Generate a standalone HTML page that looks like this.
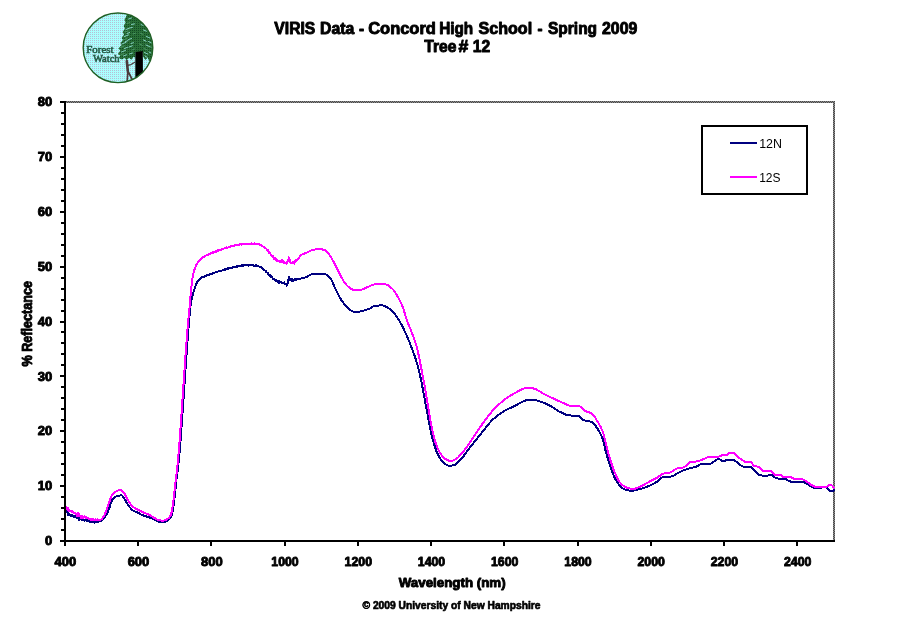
<!DOCTYPE html>
<html><head><meta charset="utf-8"><title>VIRIS Data</title>
<style>
html,body{margin:0;padding:0;background:#fff;}
body{width:907px;height:621px;overflow:hidden;font-family:"Liberation Sans",sans-serif;}
svg{display:block}
svg text{font-family:"Liberation Sans",sans-serif;fill:#000;}
.b{font-weight:bold;stroke:#000;stroke-width:0.9px;stroke-linejoin:round}
</style></head><body>
<svg width="907" height="621" viewBox="0 0 907 621">
<defs>
<pattern id="chk" width="2" height="2" patternUnits="userSpaceOnUse"><rect width="2" height="2" fill="#8c8c8c"/><rect x="0" y="1" width="1" height="1" fill="#484848"/><rect x="1" y="0" width="1" height="1" fill="#484848"/></pattern>
<clipPath id="pc"><rect x="65" y="102" width="770" height="439"/></clipPath>
</defs>
<rect width="907" height="621" fill="#fff"/>
<g id="logo">
<defs>
<clipPath id="lc"><circle cx="118" cy="47.8" r="34.6"/></clipPath>
<pattern id="dz" width="2" height="2" patternUnits="userSpaceOnUse"><rect width="2" height="2" fill="#aaffff"/><rect width="1" height="1" fill="#b4c0d4"/></pattern>
<pattern id="dg" width="2" height="2" patternUnits="userSpaceOnUse"><rect width="2" height="2" fill="#2a7038"/><rect width="1" height="1" fill="#124a24"/></pattern>
</defs>
<circle cx="118" cy="47.8" r="34.8" fill="url(#dz)"/>
<g clip-path="url(#lc)">
<!-- foliage -->
<path d="M127.6,12 L126.4,16 L124.4,20 L125.6,22.5 L123.6,26 L125,28.5 L122.6,32 L124,34.5 L121.6,38 L123,40 L120.4,43 L121.6,45 L118.4,48.5 L120.4,50.5 L117.8,54 L120.2,55.5 L118.8,58 L122,59.6 L124.5,57.8 L126.5,60.2 L129,57.7 L131.5,59.7 L133.5,56.7 L135.3,57.7 L135.3,52 L142.8,52 L143,56.5 L145.5,60 L147.5,57.5 L149.5,61.5 L151.5,58.5 L153,61 L158,52 L158,10 Z" fill="url(#dg)"/>
<!-- texture -->
<g stroke="#86d2c4" stroke-width="1" fill="none" stroke-linecap="round">
<path d="M128.5,19 l3,-1 M131.5,24.5 l3,-0.6 M126,29.5 l3.4,-1.4 M124.5,36.5 l4,-1.6 M122,44 l4.2,-1.8 M121.5,52 l4,-1.6 M129,47 l3.4,-1.2 M128.5,39.5 l3,-1 M123.5,56 l3,-1.2 M127,33.5 l2.6,-1 M125.5,41.5 l2.6,-1 M124.5,48.5 l3,-1.2 M129.5,54 l3,-1 M131,43.5 l2.4,-0.8 M130,28 l2.4,-0.6"/>
<path d="M143.5,30 l3,1.2 M146.5,36.5 l3.6,1.6 M146,45 l4,1.8 M144.5,52.5 l3.4,1.6 M149,52 l2,1 M141,24.5 l2.4,1 M148.5,41.5 l3,1.4 M143.5,40 l2.6,1.2 M145,56 l2,1.2"/>
</g>
<g stroke="#4f9a6a" stroke-width="0.9" fill="none" stroke-linecap="round">
<path d="M127,23.5 l3,-1 M124.8,32 l3.4,-1.2 M123,40 l3.6,-1.4 M120.5,47.5 l4,-1.6 M120.5,55 l3.6,-1.4 M133,34 l2.4,-0.8 M132,50 l2.6,-1 M140,33 l3,1.4 M144,48.5 l3.4,1.6 M150,46.5 l2.4,1.2 M139.5,44 l3,1.4"/>
</g>
<!-- trunk -->
<path d="M135.3,52 L142.8,51 L143,84 L135.3,84 Z" fill="#000"/>
<!-- person -->
<g stroke="#4a3a3c" fill="none" stroke-linecap="round" stroke-linejoin="round">
<path d="M126.8,61 L127.8,71" stroke-width="2.6"/>
<path d="M127.9,71 L127.2,81 M127.9,71 L132.4,80" stroke-width="1.7"/>
<path d="M127.8,65.4 L131,64.6 L134.8,62.2" stroke-width="1.2"/>
</g>
</g>
<circle cx="118" cy="47.8" r="34.8" fill="none" stroke="#1f5f24" stroke-width="1.4"/>
<g font-size="9.4" stroke="#245c46" stroke-width="0.5">
<text x="86.3" y="53.1" textLength="27.2" lengthAdjust="spacingAndGlyphs" style="font-family:'Liberation Serif',serif;fill:#245c46">Forest</text>
<text x="93" y="61.5" textLength="26.6" lengthAdjust="spacingAndGlyphs" style="font-family:'Liberation Serif',serif;fill:#245c46">Watch</text>
</g>
</g>

<g class="b" font-size="16">
<text x="274.3" y="33.9" textLength="41.0" lengthAdjust="spacingAndGlyphs">VIRIS</text>
<text x="320.1" y="33.9" textLength="34.2" lengthAdjust="spacingAndGlyphs">Data</text>
<text x="358.9" y="33.9" textLength="5.1" lengthAdjust="spacingAndGlyphs">-</text>
<text x="368.2" y="33.9" textLength="67.7" lengthAdjust="spacingAndGlyphs">Concord</text>
<text x="439.2" y="33.9" textLength="34.0" lengthAdjust="spacingAndGlyphs">High</text>
<text x="478.5" y="33.9" textLength="53.6" lengthAdjust="spacingAndGlyphs">School</text>
<text x="537.4" y="33.9" textLength="5.0" lengthAdjust="spacingAndGlyphs">-</text>
<text x="548.0" y="33.9" textLength="49.1" lengthAdjust="spacingAndGlyphs">Spring</text>
<text x="602.0" y="33.9" textLength="35.3" lengthAdjust="spacingAndGlyphs">2009</text>
<text x="424.2" y="51.6" textLength="32.2" lengthAdjust="spacingAndGlyphs">Tree</text>
<text x="458.4" y="51.6" textLength="9.8" lengthAdjust="spacingAndGlyphs">#</text>
<text x="472.8" y="51.6" textLength="17.4" lengthAdjust="spacingAndGlyphs">12</text>
</g>
<!-- plot border -->
<rect x="66" y="101" width="769" height="2" fill="url(#chk)"/>
<rect x="833" y="101" width="2" height="439" fill="url(#chk)"/>
<!-- series -->
<g fill="none" stroke-linejoin="round" stroke-linecap="butt" shape-rendering="crispEdges" clip-path="url(#pc)">
<path d="M64.3,507.9 L64.8,508.8 L65.3,509.6 L65.8,510.4 L66.3,511.4 L66.8,511.3 L67.3,512.1 L67.8,510.6 L68.3,515.3 L68.8,515.1 L69.3,514.0 L69.8,515.5 L70.3,515.3 L70.8,514.7 L71.3,516.5 L71.8,515.4 L72.3,515.6 L72.8,515.3 L73.3,516.7 L73.8,516.3 L74.3,517.1 L74.8,516.1 L75.3,516.9 L75.8,516.1 L76.3,517.9 L76.8,517.4 L77.3,517.8 L77.8,518.1 L78.3,516.9 L78.8,518.9 L79.3,520.4 L79.8,517.0 L80.3,517.8 L80.8,518.1 L81.3,519.7 L81.8,519.5 L82.3,520.2 L82.8,520.1 L83.3,519.9 L83.8,520.1 L84.3,519.9 L84.8,520.6 L85.3,519.5 L85.8,520.0 L86.3,520.5 L86.8,521.5 L87.3,520.1 L87.8,520.0 L88.3,520.3 L88.8,521.3 L89.3,520.7 L89.8,521.7 L90.3,519.9 L90.8,521.7 L91.3,521.7 L91.8,520.3 L92.3,521.4 L92.8,522.1 L93.3,521.4 L93.8,522.1 L94.3,522.9 L94.8,521.7 L95.3,521.4 L95.8,521.2 L96.3,522.1 L96.8,521.6 L97.3,521.6 L97.8,521.6 L98.3,522.1 L98.8,520.9 L99.3,520.5 L99.8,519.8 L100.3,521.1 L100.8,520.8 L101.3,520.6 L101.8,520.3 L102.3,520.0 L102.8,519.6 L103.3,519.0 L103.8,518.4 L104.3,517.7 L104.8,517.0 L105.3,516.2 L105.8,515.5 L106.3,514.7 L106.8,513.7 L107.3,512.7 L107.8,511.7 L108.3,510.6 L108.8,509.4 L109.3,508.2 L109.8,506.6 L110.3,505.0 L110.8,503.3 L111.3,501.8 L111.8,500.6 L112.3,499.8 L112.8,499.1 L113.3,498.5 L113.8,498.0 L114.3,497.5 L114.8,497.1 L115.3,496.7 L115.8,496.5 L116.3,496.3 L116.8,496.1 L117.3,496.0 L117.8,495.9 L118.3,495.8 L118.8,495.7 L119.3,495.6 L119.8,495.6 L120.3,495.5 L120.8,495.4 L121.3,495.4 L121.8,495.5 L122.3,495.8 L122.8,496.3 L123.3,497.0 L123.8,497.8 L124.3,498.6 L124.8,499.3 L125.3,500.1 L125.8,501.0 L126.3,501.9 L126.8,502.8 L127.3,503.7 L127.8,504.6 L128.3,505.3 L128.8,506.0 L129.3,506.7 L129.8,507.3 L130.3,507.9 L130.8,508.5 L131.3,509.1 L131.8,509.5 L132.3,510.0 L132.8,510.3 L133.3,510.6 L133.8,510.9 L134.3,511.1 L134.8,511.3 L135.3,511.6 L135.8,511.8 L136.3,512.0 L136.8,512.2 L137.3,512.5 L137.8,512.7 L138.3,513.0 L138.8,513.2 L139.3,513.5 L139.8,513.8 L140.3,514.1 L140.8,514.3 L141.3,514.6 L141.8,514.8 L142.3,515.1 L142.8,515.3 L143.3,515.5 L143.8,515.7 L144.3,515.9 L144.8,516.0 L145.3,516.2 L145.8,516.3 L146.3,516.5 L146.8,516.6 L147.3,516.8 L147.8,516.9 L148.3,517.1 L148.8,517.3 L149.3,517.4 L149.8,517.6 L150.3,517.8 L150.8,518.0 L151.3,518.2 L151.8,518.4 L152.3,518.6 L152.8,518.8 L153.3,519.0 L153.8,519.3 L154.3,519.5 L154.8,519.8 L155.3,520.1 L155.8,520.4 L156.3,520.7 L156.8,521.0 L157.3,521.3 L157.8,521.5 L158.3,521.6 L158.8,521.7 L159.3,521.7 L159.8,521.7 L160.3,521.7 L160.8,521.7 L161.3,521.7 L161.8,521.7 L162.3,521.7 L162.8,521.7 L163.3,521.7 L163.8,521.7 L164.3,521.7 L164.8,521.7 L165.3,521.7 L165.8,521.6 L166.3,521.4 L166.8,521.1 L167.3,520.8 L167.8,520.5 L168.3,520.1 L168.8,519.7 L169.3,519.3 L169.8,518.7 L170.3,518.0 L170.8,517.2 L171.3,516.2 L171.8,515.1 L172.3,513.4 L172.8,510.8 L173.3,507.5 L173.8,503.9 L174.3,500.1 L174.8,495.8 L175.3,490.8 L175.8,485.7 L176.3,481.0 L176.8,477.1 L177.3,473.7 L177.8,470.0 L178.3,465.5 L178.8,460.5 L179.3,455.1 L179.8,449.4 L180.3,443.3 L180.8,436.9 L181.3,430.3 L181.8,423.5 L182.3,416.4 L182.8,409.2 L183.3,401.9 L183.8,394.6 L184.3,387.1 L184.8,379.7 L185.3,372.3 L185.8,365.0 L186.3,357.8 L186.8,350.8 L187.3,343.9 L187.8,337.2 L188.3,330.8 L188.8,324.7 L189.3,318.9 L189.8,313.2 L190.3,308.2 L190.8,304.0 L191.3,300.5 L191.8,298.1 L192.3,296.1 L192.8,294.4 L193.3,292.8 L193.8,291.2 L194.3,289.6 L194.8,288.0 L195.3,286.5 L195.8,285.1 L196.3,284.0 L196.8,283.0 L197.3,282.1 L197.8,281.2 L198.3,280.5 L198.8,279.8 L199.3,279.3 L199.8,278.8 L200.3,278.7 L200.8,277.9 L201.3,277.7 L201.8,277.4 L202.3,276.9 L202.8,276.9 L203.3,276.8 L203.8,276.7 L204.3,276.7 L204.8,275.9 L205.3,276.1 L205.8,275.6 L206.3,276.1 L206.8,275.4 L207.3,275.3 L207.8,274.8 L208.3,274.7 L208.8,274.8 L209.3,274.5 L209.8,274.5 L210.3,273.8 L210.8,274.2 L211.3,273.7 L211.8,274.2 L212.3,273.5 L212.8,273.7 L213.3,272.9 L213.8,273.1 L214.3,272.6 L214.8,272.6 L215.3,272.5 L215.8,272.3 L216.3,272.2 L216.8,272.2 L217.3,272.0 L217.8,271.7 L218.3,271.2 L218.8,271.2 L219.3,271.1 L219.8,270.5 L220.3,271.1 L220.8,270.7 L221.3,270.5 L221.8,270.7 L222.3,270.4 L222.8,270.2 L223.3,269.7 L223.8,269.9 L224.3,269.7 L224.8,269.3 L225.3,269.6 L225.8,269.4 L226.3,268.6 L226.8,269.0 L227.3,268.5 L227.8,269.0 L228.3,268.7 L228.8,268.1 L229.3,268.0 L229.8,268.2 L230.3,267.9 L230.8,268.2 L231.3,267.9 L231.8,267.5 L232.3,267.6 L232.8,266.8 L233.3,267.3 L233.8,267.3 L234.3,266.9 L234.8,266.7 L235.3,266.9 L235.8,267.2 L236.3,266.6 L236.8,266.2 L237.3,266.7 L237.8,265.8 L238.3,266.3 L238.8,266.0 L239.3,266.2 L239.8,265.7 L240.3,266.2 L240.8,265.8 L241.3,265.3 L241.8,265.1 L242.3,265.5 L242.8,265.8 L243.3,265.5 L243.8,265.4 L244.3,265.3 L244.8,265.5 L245.3,265.4 L245.8,265.3 L246.3,265.0 L246.8,265.5 L247.3,265.5 L247.8,264.8 L248.3,265.7 L248.8,265.3 L249.3,264.9 L249.8,264.6 L250.3,265.2 L250.8,265.1 L251.3,264.9 L251.8,264.6 L252.3,265.3 L252.8,264.9 L253.3,265.0 L253.8,265.9 L254.3,265.8 L254.8,265.6 L255.3,265.3 L255.8,265.7 L256.3,265.1 L256.8,265.8 L257.3,265.7 L257.8,265.7 L258.3,265.8 L258.8,266.5 L259.3,266.6 L259.8,266.9 L260.3,267.3 L260.8,267.2 L261.3,267.4 L261.8,267.6 L262.3,268.4 L262.8,269.0 L263.3,269.2 L263.8,269.8 L264.3,269.7 L264.8,270.3 L265.3,270.6 L265.8,270.9 L266.3,272.2 L266.8,272.4 L267.3,272.5 L267.8,273.0 L268.3,274.6 L268.8,274.4 L269.3,275.9 L269.8,275.3 L270.3,275.3 L270.8,276.7 L271.3,276.7 L271.8,276.4 L272.3,277.1 L272.8,279.4 L273.3,278.9 L273.8,279.4 L274.3,279.4 L274.8,279.5 L275.3,280.9 L275.8,280.5 L276.3,280.3 L276.8,281.0 L277.3,280.6 L277.8,281.6 L278.3,282.4 L278.8,281.2 L279.3,283.0 L279.8,281.6 L280.3,282.4 L280.8,281.8 L281.3,282.4 L281.8,282.7 L282.3,282.6 L282.8,282.6 L283.3,282.7 L283.8,282.8 L284.3,282.4 L284.8,283.5 L285.3,284.0 L285.8,284.5 L286.3,284.4 L286.8,285.7 L287.3,284.2 L287.8,282.2 L288.3,280.9 L288.8,276.8 L289.3,278.6 L289.8,278.3 L290.3,280.1 L290.8,278.6 L291.3,280.6 L291.8,279.8 L292.3,279.2 L292.8,281.0 L293.3,280.4 L293.8,279.8 L294.3,279.2 L294.8,279.6 L295.3,279.4 L295.8,280.0 L296.3,279.4 L296.8,279.3 L297.3,279.2 L297.8,279.1 L298.3,279.1 L298.8,279.0 L299.3,278.9 L299.8,278.8 L300.3,278.7 L300.8,278.6 L301.3,278.5 L301.8,278.4 L302.3,278.3 L302.8,278.2 L303.3,278.0 L303.8,277.9 L304.3,277.8 L304.8,277.6 L305.3,277.5 L305.8,277.3 L306.3,277.1 L306.8,276.9 L307.3,276.6 L307.8,276.3 L308.3,276.0 L308.8,275.7 L309.3,275.4 L309.8,275.1 L310.3,274.8 L310.8,274.6 L311.3,274.4 L311.8,274.2 L312.3,274.1 L312.8,274.0 L313.3,273.9 L313.8,273.8 L314.3,273.8 L314.8,273.7 L315.3,273.7 L315.8,273.6 L316.3,273.6 L316.8,273.6 L317.3,273.5 L317.8,273.5 L318.3,273.5 L318.8,273.5 L319.3,273.5 L319.8,273.5 L320.3,273.5 L320.8,273.6 L321.3,273.6 L321.8,273.7 L322.3,273.7 L322.8,273.8 L323.3,273.9 L323.8,274.0 L324.3,274.1 L324.8,274.2 L325.3,274.3 L325.8,274.4 L326.3,274.6 L326.8,274.9 L327.3,275.3 L327.8,275.7 L328.3,276.1 L328.8,276.6 L329.3,277.2 L329.8,277.7 L330.3,278.3 L330.8,279.0 L331.3,279.8 L331.8,280.7 L332.3,281.8 L332.8,282.9 L333.3,284.0 L333.8,285.2 L334.3,286.3 L334.8,287.4 L335.3,288.4 L335.8,289.4 L336.3,290.5 L336.8,291.6 L337.3,292.6 L337.8,293.7 L338.3,294.7 L338.8,295.7 L339.3,296.7 L339.8,297.5 L340.3,298.4 L340.8,299.2 L341.3,300.0 L341.8,300.7 L342.3,301.5 L342.8,302.2 L343.3,302.9 L343.8,303.6 L344.3,304.2 L344.8,304.8 L345.3,305.4 L345.8,305.9 L346.3,306.5 L346.8,307.0 L347.3,307.5 L347.8,308.0 L348.3,308.5 L348.8,308.9 L349.3,309.4 L349.8,309.7 L350.3,310.1 L350.8,310.4 L351.3,310.6 L351.8,310.9 L352.3,311.1 L352.8,311.4 L353.3,311.6 L353.8,311.8 L354.3,311.9 L354.8,312.1 L355.3,312.1 L355.8,312.2 L356.3,312.2 L356.8,312.2 L357.3,312.1 L357.8,312.0 L358.3,312.0 L358.8,311.9 L359.3,311.7 L359.8,311.6 L360.3,311.5 L360.8,311.3 L361.3,311.2 L361.8,311.1 L362.3,310.9 L362.8,310.8 L363.3,310.7 L363.8,310.6 L364.3,310.4 L364.8,310.3 L365.3,310.1 L365.8,310.0 L366.3,309.8 L366.8,309.7 L367.3,309.5 L367.8,309.3 L368.3,309.1 L368.8,308.9 L369.3,308.7 L369.8,308.5 L370.3,308.2 L370.8,307.9 L371.3,307.6 L371.8,307.3 L372.3,307.0 L372.8,306.7 L373.3,306.4 L373.8,306.2 L374.3,305.9 L374.8,305.8 L375.3,305.7 L375.8,305.7 L376.3,305.6 L376.8,305.6 L377.3,305.6 L377.8,305.5 L378.3,305.5 L378.8,305.5 L379.3,305.5 L379.8,305.4 L380.3,305.4 L380.8,305.4 L381.3,305.4 L381.8,305.4 L382.3,305.4 L382.8,305.5 L383.3,305.6 L383.8,305.8 L384.3,306.0 L384.8,306.2 L385.3,306.4 L385.8,306.7 L386.3,306.9 L386.8,307.2 L387.3,307.5 L387.8,307.8 L388.3,308.1 L388.8,308.4 L389.3,308.7 L389.8,309.1 L390.3,309.5 L390.8,310.0 L391.3,310.4 L391.8,310.9 L392.3,311.4 L392.8,311.9 L393.3,312.4 L393.8,313.0 L394.3,313.6 L394.8,314.2 L395.3,314.9 L395.8,315.6 L396.3,316.3 L396.8,317.0 L397.3,317.7 L397.8,318.5 L398.3,319.2 L398.8,319.9 L399.3,320.7 L399.8,321.5 L400.3,322.4 L400.8,323.3 L401.3,324.2 L401.8,325.2 L402.3,326.2 L402.8,327.2 L403.3,328.2 L403.8,329.2 L404.3,330.3 L404.8,331.4 L405.3,332.5 L405.8,333.6 L406.3,334.7 L406.8,335.8 L407.3,336.9 L407.8,338.1 L408.3,339.3 L408.8,340.5 L409.3,341.7 L409.8,343.0 L410.3,344.2 L410.8,345.5 L411.3,346.8 L411.8,348.1 L412.3,349.5 L412.8,350.8 L413.3,352.2 L413.8,353.6 L414.3,355.0 L414.8,356.5 L415.3,358.0 L415.8,359.5 L416.3,361.1 L416.8,362.8 L417.3,364.5 L417.8,366.3 L418.3,368.2 L418.8,370.2 L419.3,372.3 L419.8,374.4 L420.3,376.6 L420.8,378.8 L421.3,381.2 L421.8,383.7 L422.3,386.3 L422.8,389.0 L423.3,391.7 L423.8,394.5 L424.3,397.2 L424.8,399.9 L425.3,402.6 L425.8,405.2 L426.3,407.9 L426.8,410.6 L427.3,413.3 L427.8,415.9 L428.3,418.5 L428.8,421.0 L429.3,423.5 L429.8,426.1 L430.3,428.7 L430.8,431.2 L431.3,433.5 L431.8,435.8 L432.3,437.8 L432.8,439.7 L433.3,441.5 L433.8,443.2 L434.3,444.9 L434.8,446.5 L435.3,448.1 L435.8,449.5 L436.3,450.9 L436.8,452.1 L437.3,453.3 L437.8,454.3 L438.3,455.3 L438.8,456.2 L439.3,457.1 L439.8,458.0 L440.3,458.7 L440.8,459.5 L441.3,460.2 L441.8,460.8 L442.3,461.3 L442.8,461.8 L443.3,462.2 L443.8,462.7 L444.3,463.1 L444.8,463.5 L445.3,463.9 L445.8,464.3 L446.3,464.6 L446.8,464.9 L447.3,465.2 L447.8,465.4 L448.3,465.6 L448.8,465.7 L449.3,465.7 L449.8,465.7 L450.3,465.7 L450.8,465.6 L451.3,465.6 L451.8,465.5 L452.3,465.4 L452.8,465.3 L453.3,465.2 L453.8,465.1 L454.3,465.0 L454.8,464.8 L455.3,464.6 L455.8,464.3 L456.3,463.9 L456.8,463.5 L457.3,463.1 L457.8,462.6 L458.3,462.1 L458.8,461.5 L459.3,461.0 L459.8,460.4 L460.3,459.8 L460.8,459.3 L461.3,458.8 L461.8,458.2 L462.3,457.6 L462.8,457.0 L463.3,456.4 L463.8,455.8 L464.3,455.1 L464.8,454.5 L465.3,453.8 L465.8,453.1 L466.3,452.4 L466.8,451.7 L467.3,451.1 L467.8,450.4 L468.3,449.7 L468.8,449.0 L469.3,448.4 L469.8,447.7 L470.3,447.1 L470.8,446.5 L471.3,445.8 L471.8,445.2 L472.3,444.6 L472.8,443.9 L473.3,443.3 L473.8,442.7 L474.3,442.0 L474.8,441.4 L475.3,440.8 L475.8,440.1 L476.3,439.5 L476.8,438.9 L477.3,438.3 L477.8,437.7 L478.3,437.0 L478.8,436.4 L479.3,435.8 L479.8,435.2 L480.3,434.6 L480.8,434.0 L481.3,433.3 L481.8,432.7 L482.3,432.1 L482.8,431.4 L483.3,430.8 L483.8,430.1 L484.3,429.5 L484.8,428.9 L485.3,428.2 L485.8,427.6 L486.3,426.9 L486.8,426.3 L487.3,425.7 L487.8,425.1 L488.3,424.5 L488.8,423.9 L489.3,423.3 L489.8,422.7 L490.3,422.2 L490.8,421.6 L491.3,421.1 L491.8,420.6 L492.3,420.1 L492.8,419.6 L493.3,419.1 L493.8,418.7 L494.3,418.2 L494.8,417.8 L495.3,417.4 L495.8,416.9 L496.3,416.5 L496.8,416.1 L497.3,415.7 L497.8,415.3 L498.3,414.9 L498.8,414.6 L499.3,414.2 L499.8,413.9 L500.3,413.5 L500.8,413.2 L501.3,412.8 L501.8,412.5 L502.3,412.2 L502.8,411.9 L503.3,411.6 L503.8,411.3 L504.3,411.0 L504.8,410.7 L505.3,410.4 L505.8,410.2 L506.3,409.9 L506.8,409.7 L507.3,409.4 L507.8,409.2 L508.3,408.9 L508.8,408.7 L509.3,408.5 L509.8,408.2 L510.3,408.0 L510.8,407.8 L511.3,407.6 L511.8,407.3 L512.3,407.1 L512.8,406.8 L513.3,406.6 L513.8,406.3 L514.3,406.1 L514.8,405.8 L515.3,405.6 L515.8,405.3 L516.3,405.1 L516.8,404.8 L517.3,404.5 L517.8,404.3 L518.3,404.0 L518.8,403.7 L519.3,403.5 L519.8,403.2 L520.3,403.0 L520.8,402.7 L521.3,402.5 L521.8,402.2 L522.3,402.0 L522.8,401.7 L523.3,401.5 L523.8,401.3 L524.3,401.1 L524.8,400.8 L525.3,400.6 L525.8,400.4 L526.3,400.3 L526.8,400.2 L527.3,400.2 L527.8,400.2 L528.3,400.1 L528.8,400.1 L529.3,400.0 L529.8,400.0 L530.3,400.0 L530.8,400.0 L531.3,399.9 L531.8,399.9 L532.3,399.9 L532.8,399.9 L533.3,399.9 L533.8,399.9 L534.3,399.9 L534.8,400.0 L535.3,400.1 L535.8,400.2 L536.3,400.3 L536.8,400.4 L537.3,400.6 L537.8,400.7 L538.3,400.9 L538.8,401.1 L539.3,401.2 L539.8,401.4 L540.3,401.6 L540.8,401.8 L541.3,401.9 L541.8,402.1 L542.3,402.3 L542.8,402.5 L543.3,402.7 L543.8,402.9 L544.3,403.1 L544.8,403.3 L545.3,403.5 L545.8,403.8 L546.3,404.0 L546.8,404.2 L547.3,404.5 L547.8,404.7 L548.3,405.0 L548.8,405.2 L549.3,405.5 L549.8,405.8 L550.3,406.0 L550.8,406.3 L551.3,406.5 L551.8,406.8 L552.3,407.1 L552.8,407.4 L553.3,407.7 L553.8,408.0 L554.3,408.4 L554.8,408.7 L555.3,409.1 L555.8,409.4 L556.3,409.7 L556.8,410.1 L557.3,410.4 L557.8,410.7 L558.3,411.0 L558.8,411.3 L559.3,411.6 L559.8,411.8 L560.3,412.0 L560.8,412.3 L561.3,412.5 L561.8,412.8 L562.3,413.0 L562.8,413.3 L563.3,413.5 L563.8,413.8 L564.3,414.0 L564.8,414.2 L565.3,414.4 L565.8,414.6 L566.3,414.8 L566.8,415.0 L567.3,415.1 L567.8,415.2 L568.3,415.3 L568.8,415.4 L569.3,415.4 L569.8,415.4 L570.3,415.4 L570.8,415.5 L571.3,415.5 L571.8,415.5 L572.3,415.5 L572.8,415.5 L573.3,415.5 L573.8,415.5 L574.3,415.5 L574.8,415.5 L575.3,415.5 L575.8,415.5 L576.3,415.6 L576.8,415.6 L577.3,415.6 L577.8,415.6 L578.3,415.8 L578.8,416.1 L579.3,416.4 L579.8,416.8 L580.3,417.3 L580.8,417.8 L581.3,418.3 L581.8,418.8 L582.3,419.2 L582.8,419.6 L583.3,420.0 L583.8,420.2 L584.3,420.4 L584.8,420.5 L585.3,420.7 L585.8,420.8 L586.3,420.9 L586.8,421.0 L587.3,421.1 L587.8,421.2 L588.3,421.2 L588.8,421.3 L589.3,421.4 L589.8,421.5 L590.3,421.7 L590.8,421.8 L591.3,422.0 L591.8,422.1 L592.3,422.3 L592.8,422.6 L593.3,423.0 L593.8,423.5 L594.3,424.1 L594.8,424.8 L595.3,425.4 L595.8,426.2 L596.3,426.9 L596.8,427.7 L597.3,428.4 L597.8,429.2 L598.3,430.0 L598.8,430.8 L599.3,431.7 L599.8,432.6 L600.3,433.5 L600.8,434.5 L601.3,435.6 L601.8,436.8 L602.3,438.0 L602.8,439.4 L603.3,441.1 L603.8,443.0 L604.3,445.2 L604.8,447.5 L605.3,449.6 L605.8,451.6 L606.3,453.4 L606.8,455.1 L607.3,456.8 L607.8,458.4 L608.3,460.0 L608.8,461.6 L609.3,463.1 L609.8,464.6 L610.3,466.1 L610.8,467.6 L611.3,469.1 L611.8,470.6 L612.3,472.0 L612.8,473.4 L613.3,474.7 L613.8,475.8 L614.3,476.9 L614.8,477.9 L615.3,478.9 L615.8,479.8 L616.3,480.7 L616.8,481.5 L617.3,482.3 L617.8,483.1 L618.3,483.8 L618.8,484.4 L619.3,485.0 L619.8,485.5 L620.3,486.1 L620.8,486.6 L621.3,487.0 L621.8,487.5 L622.3,487.9 L622.8,488.3 L623.3,488.6 L623.8,488.9 L624.3,489.2 L624.8,489.4 L625.3,489.5 L625.8,489.7 L626.3,489.9 L626.8,490.0 L627.3,490.2 L627.8,490.3 L628.3,490.4 L628.8,490.5 L629.3,490.6 L629.8,490.6 L630.3,490.7 L630.8,490.7 L631.3,490.7 L631.8,490.7 L632.3,490.6 L632.8,490.6 L633.3,490.5 L633.8,490.5 L634.3,490.4 L634.8,490.3 L635.3,490.2 L635.8,490.1 L636.3,490.0 L636.8,489.9 L637.3,489.8 L637.8,489.6 L638.3,489.5 L638.8,489.4 L639.3,489.3 L639.8,489.2 L640.3,489.1 L640.8,488.9 L641.3,488.8 L641.8,488.6 L642.3,488.5 L642.8,488.3 L643.3,488.2 L643.8,488.0 L644.3,487.8 L644.8,487.6 L645.3,487.4 L645.8,487.2 L646.3,487.0 L646.8,486.8 L647.3,486.6 L647.8,486.4 L648.3,486.2 L648.8,486.0 L649.3,485.8 L649.8,485.6 L650.3,485.3 L650.8,485.1 L651.3,484.9 L651.8,484.6 L652.3,484.4 L652.8,484.1 L653.3,483.8 L653.8,483.6 L654.3,483.3 L654.8,483.0 L655.3,482.7 L655.8,482.4 L656.3,482.1 L656.8,481.8 L657.3,481.4 L657.8,481.0 L658.3,480.5 L658.8,480.1 L659.3,479.6 L659.8,479.1 L660.3,478.6 L660.8,478.2 L661.3,477.8 L661.8,477.5 L662.3,477.3 L662.8,477.1 L663.3,477.1 L663.8,477.1 L664.3,477.1 L664.8,477.1 L665.3,477.1 L665.8,477.1 L666.3,477.1 L666.8,477.1 L667.3,477.1 L667.8,477.1 L668.3,477.1 L668.8,477.0 L669.3,476.9 L669.8,476.8 L670.3,476.7 L670.8,476.6 L671.3,476.4 L671.8,476.3 L672.3,476.1 L672.8,475.9 L673.3,475.8 L673.8,475.6 L674.3,475.3 L674.8,475.0 L675.3,474.7 L675.8,474.4 L676.3,474.0 L676.8,473.7 L677.3,473.3 L677.8,473.0 L678.3,472.7 L678.8,472.5 L679.3,472.2 L679.8,472.0 L680.3,471.7 L680.8,471.5 L681.3,471.3 L681.8,471.1 L682.3,470.9 L682.8,470.7 L683.3,470.5 L683.8,470.3 L684.3,470.1 L684.8,469.9 L685.3,469.7 L685.8,469.6 L686.3,469.4 L686.8,469.2 L687.3,469.1 L687.8,468.9 L688.3,468.8 L688.8,468.6 L689.3,468.5 L689.8,468.4 L690.3,468.3 L690.8,468.1 L691.3,468.0 L691.8,467.9 L692.3,467.8 L692.8,467.7 L693.3,467.5 L693.8,467.4 L694.3,467.3 L694.8,467.1 L695.3,467.0 L695.8,466.8 L696.3,466.6 L696.8,466.3 L697.3,466.0 L697.8,465.8 L698.3,465.5 L698.8,465.2 L699.3,465.0 L699.8,464.7 L700.3,464.5 L700.8,464.4 L701.3,464.3 L701.8,464.2 L702.3,464.2 L702.8,464.1 L703.3,464.1 L703.8,464.1 L704.3,464.1 L704.8,464.1 L705.3,464.1 L705.8,464.1 L706.3,464.0 L706.8,464.0 L707.3,464.0 L707.8,464.0 L708.3,464.0 L708.8,463.9 L709.3,463.9 L709.8,463.9 L710.3,463.7 L710.8,463.6 L711.3,463.3 L711.8,463.0 L712.3,462.7 L712.8,462.4 L713.3,462.0 L713.8,461.7 L714.3,461.3 L714.8,461.0 L715.3,460.7 L715.8,460.3 L716.3,459.9 L716.8,459.5 L717.3,459.2 L717.8,458.9 L718.3,458.7 L718.8,458.7 L719.3,458.9 L719.8,459.3 L720.3,459.7 L720.8,460.2 L721.3,460.7 L721.8,461.1 L722.3,461.4 L722.8,461.5 L723.3,461.4 L723.8,461.3 L724.3,461.1 L724.8,460.9 L725.3,460.7 L725.8,460.4 L726.3,460.3 L726.8,460.1 L727.3,460.1 L727.8,460.1 L728.3,460.1 L728.8,460.1 L729.3,460.1 L729.8,460.1 L730.3,460.1 L730.8,460.1 L731.3,460.1 L731.8,460.1 L732.3,460.1 L732.8,460.1 L733.3,460.2 L733.8,460.3 L734.3,460.5 L734.8,460.8 L735.3,461.1 L735.8,461.4 L736.3,461.7 L736.8,462.1 L737.3,462.5 L737.8,462.9 L738.3,463.4 L738.8,463.9 L739.3,464.3 L739.8,464.7 L740.3,465.0 L740.8,465.3 L741.3,465.6 L741.8,465.9 L742.3,466.1 L742.8,466.4 L743.3,466.6 L743.8,466.7 L744.3,466.8 L744.8,466.8 L745.3,466.8 L745.8,466.9 L746.3,466.9 L746.8,466.9 L747.3,466.9 L747.8,466.9 L748.3,466.9 L748.8,466.9 L749.3,467.0 L749.8,467.0 L750.3,467.1 L750.8,467.3 L751.3,467.5 L751.8,467.9 L752.3,468.4 L752.8,468.8 L753.3,469.3 L753.8,469.9 L754.3,470.4 L754.8,470.9 L755.3,471.3 L755.8,471.8 L756.3,472.2 L756.8,472.8 L757.3,473.3 L757.8,473.8 L758.3,474.3 L758.8,474.6 L759.3,474.9 L759.8,475.1 L760.3,475.2 L760.8,475.3 L761.3,475.4 L761.8,475.4 L762.3,475.5 L762.8,475.6 L763.3,475.6 L763.8,475.7 L764.3,475.7 L764.8,475.8 L765.3,475.8 L765.8,475.8 L766.3,475.8 L766.8,475.8 L767.3,475.7 L767.8,475.6 L768.3,475.4 L768.8,475.2 L769.3,475.0 L769.8,474.9 L770.3,474.8 L770.8,474.7 L771.3,474.8 L771.8,475.0 L772.3,475.3 L772.8,475.7 L773.3,476.2 L773.8,476.7 L774.3,477.1 L774.8,477.4 L775.3,477.7 L775.8,477.9 L776.3,478.1 L776.8,478.2 L777.3,478.4 L777.8,478.5 L778.3,478.6 L778.8,478.7 L779.3,478.8 L779.8,478.8 L780.3,478.8 L780.8,478.8 L781.3,478.8 L781.8,478.8 L782.3,478.8 L782.8,478.8 L783.3,478.8 L783.8,478.8 L784.3,478.8 L784.8,478.8 L785.3,478.8 L785.8,478.9 L786.3,479.2 L786.8,479.6 L787.3,480.0 L787.8,480.4 L788.3,480.7 L788.8,480.9 L789.3,481.1 L789.8,481.3 L790.3,481.4 L790.8,481.6 L791.3,481.7 L791.8,481.8 L792.3,481.9 L792.8,481.9 L793.3,481.9 L793.8,481.9 L794.3,481.9 L794.8,481.9 L795.3,481.9 L795.8,481.8 L796.3,481.8 L796.8,481.8 L797.3,481.8 L797.8,481.8 L798.3,481.8 L798.8,481.8 L799.3,481.7 L799.8,481.7 L800.3,481.7 L800.8,481.7 L801.3,481.7 L801.8,481.7 L802.3,481.7 L802.8,481.8 L803.3,482.0 L803.8,482.2 L804.3,482.4 L804.8,482.6 L805.3,482.9 L805.8,483.1 L806.3,483.4 L806.8,483.6 L807.3,483.9 L807.8,484.2 L808.3,484.5 L808.8,484.9 L809.3,485.2 L809.8,485.6 L810.3,486.0 L810.8,486.4 L811.3,486.7 L811.8,487.0 L812.3,487.2 L812.8,487.4 L813.3,487.5 L813.8,487.6 L814.3,487.7 L814.8,487.8 L815.3,487.9 L815.8,487.9 L816.3,488.0 L816.8,488.0 L817.3,488.0 L817.8,488.0 L818.3,488.0 L818.8,487.9 L819.3,487.9 L819.8,487.8 L820.3,487.8 L820.8,487.7 L821.3,487.6 L821.8,487.6 L822.3,487.5 L822.8,487.4 L823.3,487.4 L823.8,487.3 L824.3,487.3 L824.8,487.2 L825.3,487.2 L825.8,487.2 L826.3,487.3 L826.8,487.6 L827.3,488.2 L827.8,488.8 L828.3,489.5 L828.8,490.2 L829.3,490.7 L829.8,490.9 L830.3,490.9 L830.8,490.9 L831.3,490.9 L831.8,490.8 L832.3,490.8 L832.8,490.8 L833.3,490.7 L833.8,490.0 L834.3,489.1" stroke="#000080" stroke-width="2"/>
<path d="M64.3,502.2 L64.8,504.0 L65.3,505.6 L65.8,507.0 L66.3,508.4 L66.8,509.5 L67.3,509.4 L67.8,508.1 L68.3,510.6 L68.8,510.4 L69.3,509.6 L69.8,511.0 L70.3,511.1 L70.8,511.3 L71.3,511.4 L71.8,512.2 L72.3,511.2 L72.8,512.1 L73.3,512.1 L73.8,513.5 L74.3,513.2 L74.8,513.2 L75.3,513.0 L75.8,513.8 L76.3,514.4 L76.8,514.4 L77.3,516.3 L77.8,516.3 L78.3,512.9 L78.8,514.0 L79.3,515.9 L79.8,515.9 L80.3,516.6 L80.8,516.7 L81.3,518.0 L81.8,516.2 L82.3,516.7 L82.8,518.2 L83.3,517.5 L83.8,517.6 L84.3,517.0 L84.8,516.4 L85.3,517.6 L85.8,517.7 L86.3,517.0 L86.8,517.5 L87.3,518.1 L87.8,517.7 L88.3,518.5 L88.8,518.8 L89.3,519.0 L89.8,518.8 L90.3,519.6 L90.8,519.9 L91.3,519.6 L91.8,519.1 L92.3,520.1 L92.8,519.4 L93.3,520.4 L93.8,519.3 L94.3,520.5 L94.8,520.0 L95.3,519.3 L95.8,519.9 L96.3,520.1 L96.8,520.3 L97.3,519.5 L97.8,519.4 L98.3,520.1 L98.8,519.7 L99.3,520.1 L99.8,520.3 L100.3,519.8 L100.8,519.6 L101.3,519.3 L101.8,518.9 L102.3,518.3 L102.8,517.7 L103.3,517.1 L103.8,516.4 L104.3,515.5 L104.8,514.4 L105.3,513.1 L105.8,511.8 L106.3,510.5 L106.8,509.2 L107.3,507.8 L107.8,506.3 L108.3,504.9 L108.8,503.5 L109.3,502.1 L109.8,500.6 L110.3,499.1 L110.8,497.7 L111.3,496.6 L111.8,495.7 L112.3,494.9 L112.8,494.2 L113.3,493.5 L113.8,492.9 L114.3,492.5 L114.8,492.1 L115.3,491.8 L115.8,491.5 L116.3,491.2 L116.8,491.0 L117.3,490.8 L117.8,490.6 L118.3,490.5 L118.8,490.3 L119.3,490.2 L119.8,490.1 L120.3,490.0 L120.8,490.0 L121.3,490.2 L121.8,490.5 L122.3,491.0 L122.8,491.6 L123.3,492.2 L123.8,492.8 L124.3,493.5 L124.8,494.2 L125.3,495.1 L125.8,496.1 L126.3,497.1 L126.8,498.1 L127.3,499.1 L127.8,499.9 L128.3,500.7 L128.8,501.5 L129.3,502.3 L129.8,503.0 L130.3,503.7 L130.8,504.4 L131.3,505.0 L131.8,505.6 L132.3,506.1 L132.8,506.6 L133.3,507.0 L133.8,507.3 L134.3,507.7 L134.8,508.0 L135.3,508.3 L135.8,508.6 L136.3,508.9 L136.8,509.2 L137.3,509.5 L137.8,509.7 L138.3,510.0 L138.8,510.3 L139.3,510.5 L139.8,510.8 L140.3,511.0 L140.8,511.2 L141.3,511.5 L141.8,511.7 L142.3,511.9 L142.8,512.2 L143.3,512.4 L143.8,512.6 L144.3,512.8 L144.8,513.1 L145.3,513.3 L145.8,513.5 L146.3,513.7 L146.8,513.9 L147.3,514.1 L147.8,514.3 L148.3,514.5 L148.8,514.8 L149.3,515.0 L149.8,515.3 L150.3,515.5 L150.8,515.8 L151.3,516.1 L151.8,516.4 L152.3,516.7 L152.8,517.0 L153.3,517.3 L153.8,517.6 L154.3,517.9 L154.8,518.2 L155.3,518.5 L155.8,518.8 L156.3,519.1 L156.8,519.4 L157.3,519.7 L157.8,519.9 L158.3,520.1 L158.8,520.2 L159.3,520.3 L159.8,520.3 L160.3,520.4 L160.8,520.5 L161.3,520.5 L161.8,520.5 L162.3,520.6 L162.8,520.6 L163.3,520.6 L163.8,520.6 L164.3,520.5 L164.8,520.4 L165.3,520.2 L165.8,520.0 L166.3,519.7 L166.8,519.4 L167.3,519.1 L167.8,518.7 L168.3,518.4 L168.8,517.9 L169.3,517.3 L169.8,516.6 L170.3,515.7 L170.8,514.7 L171.3,513.4 L171.8,511.3 L172.3,508.4 L172.8,505.1 L173.3,501.6 L173.8,497.8 L174.3,493.4 L174.8,488.5 L175.3,483.7 L175.8,479.3 L176.3,475.5 L176.8,471.7 L177.3,467.2 L177.8,462.1 L178.3,456.6 L178.8,450.8 L179.3,444.6 L179.8,438.1 L180.3,431.4 L180.8,424.4 L181.3,417.3 L181.8,410.0 L182.3,402.6 L182.8,395.1 L183.3,387.7 L183.8,380.2 L184.3,372.8 L184.8,365.5 L185.3,358.3 L185.8,351.2 L186.3,344.4 L186.8,337.9 L187.3,331.6 L187.8,325.6 L188.3,320.0 L188.8,315.0 L189.3,310.3 L189.8,305.1 L190.3,298.9 L190.8,292.6 L191.3,287.3 L191.8,283.3 L192.3,279.7 L192.8,276.6 L193.3,274.0 L193.8,271.9 L194.3,270.2 L194.8,268.6 L195.3,267.3 L195.8,266.1 L196.3,265.0 L196.8,264.1 L197.3,263.3 L197.8,262.6 L198.3,261.9 L198.8,261.2 L199.3,260.7 L199.8,260.1 L200.3,260.2 L200.8,258.9 L201.3,258.4 L201.8,258.4 L202.3,257.7 L202.8,257.4 L203.3,257.1 L203.8,257.0 L204.3,256.5 L204.8,256.3 L205.3,256.0 L205.8,255.5 L206.3,255.4 L206.8,255.0 L207.3,255.0 L207.8,254.5 L208.3,254.2 L208.8,254.6 L209.3,254.0 L209.8,253.8 L210.3,253.7 L210.8,253.3 L211.3,253.1 L211.8,253.1 L212.3,252.9 L212.8,252.3 L213.3,252.6 L213.8,252.1 L214.3,251.8 L214.8,251.7 L215.3,251.6 L215.8,251.9 L216.3,251.0 L216.8,251.2 L217.3,250.4 L217.8,250.8 L218.3,250.8 L218.8,250.4 L219.3,250.1 L219.8,250.1 L220.3,250.1 L220.8,249.9 L221.3,250.0 L221.8,249.4 L222.3,249.0 L222.8,249.0 L223.3,248.8 L223.8,248.7 L224.3,248.5 L224.8,248.4 L225.3,247.8 L225.8,248.3 L226.3,247.7 L226.8,247.4 L227.3,247.7 L227.8,247.7 L228.3,247.4 L228.8,247.1 L229.3,246.7 L229.8,247.5 L230.3,246.9 L230.8,246.2 L231.3,246.2 L231.8,246.3 L232.3,245.8 L232.8,246.1 L233.3,245.8 L233.8,246.1 L234.3,245.9 L234.8,244.9 L235.3,245.5 L235.8,244.9 L236.3,245.5 L236.8,245.2 L237.3,245.2 L237.8,244.7 L238.3,245.3 L238.8,245.3 L239.3,244.4 L239.8,244.7 L240.3,244.4 L240.8,244.5 L241.3,244.1 L241.8,244.8 L242.3,244.0 L242.8,244.1 L243.3,244.3 L243.8,243.9 L244.3,243.9 L244.8,243.8 L245.3,243.9 L245.8,243.5 L246.3,243.7 L246.8,243.7 L247.3,243.6 L247.8,243.7 L248.3,243.6 L248.8,243.9 L249.3,243.6 L249.8,243.7 L250.3,243.5 L250.8,243.6 L251.3,243.4 L251.8,243.9 L252.3,243.5 L252.8,243.6 L253.3,243.9 L253.8,243.9 L254.3,243.8 L254.8,243.4 L255.3,244.0 L255.8,244.0 L256.3,243.6 L256.8,244.2 L257.3,243.9 L257.8,243.9 L258.3,244.3 L258.8,244.4 L259.3,244.7 L259.8,244.4 L260.3,245.5 L260.8,245.1 L261.3,245.1 L261.8,245.9 L262.3,245.9 L262.8,246.4 L263.3,246.5 L263.8,246.9 L264.3,247.4 L264.8,247.5 L265.3,248.3 L265.8,248.4 L266.3,248.8 L266.8,249.5 L267.3,250.1 L267.8,250.6 L268.3,250.1 L268.8,252.1 L269.3,253.5 L269.8,253.1 L270.3,253.4 L270.8,255.1 L271.3,255.3 L271.8,256.3 L272.3,256.0 L272.8,255.8 L273.3,257.3 L273.8,257.7 L274.3,259.0 L274.8,259.1 L275.3,258.2 L275.8,258.9 L276.3,260.6 L276.8,260.6 L277.3,259.9 L277.8,260.5 L278.3,261.0 L278.8,261.2 L279.3,261.6 L279.8,261.3 L280.3,261.2 L280.8,261.2 L281.3,262.3 L281.8,260.1 L282.3,261.8 L282.8,262.1 L283.3,261.2 L283.8,262.6 L284.3,262.0 L284.8,263.2 L285.3,262.7 L285.8,263.3 L286.3,263.8 L286.8,263.3 L287.3,262.4 L287.8,260.6 L288.3,260.4 L288.8,257.4 L289.3,257.7 L289.8,260.4 L290.3,262.1 L290.8,263.2 L291.3,262.8 L291.8,262.9 L292.3,262.4 L292.8,263.3 L293.3,262.3 L293.8,263.3 L294.3,263.7 L294.8,261.2 L295.3,260.1 L295.8,261.7 L296.3,260.7 L296.8,260.2 L297.3,259.7 L297.8,259.2 L298.3,258.5 L298.8,257.9 L299.3,257.2 L299.8,256.5 L300.3,255.9 L300.8,255.4 L301.3,255.0 L301.8,254.7 L302.3,254.4 L302.8,254.2 L303.3,254.0 L303.8,253.8 L304.3,253.6 L304.8,253.4 L305.3,253.2 L305.8,253.0 L306.3,252.8 L306.8,252.6 L307.3,252.3 L307.8,252.1 L308.3,251.9 L308.8,251.6 L309.3,251.4 L309.8,251.1 L310.3,250.9 L310.8,250.7 L311.3,250.5 L311.8,250.3 L312.3,250.2 L312.8,250.1 L313.3,249.9 L313.8,249.8 L314.3,249.7 L314.8,249.6 L315.3,249.5 L315.8,249.4 L316.3,249.3 L316.8,249.2 L317.3,249.1 L317.8,249.1 L318.3,249.0 L318.8,249.0 L319.3,249.0 L319.8,249.0 L320.3,249.1 L320.8,249.1 L321.3,249.2 L321.8,249.3 L322.3,249.4 L322.8,249.6 L323.3,249.7 L323.8,249.8 L324.3,250.0 L324.8,250.2 L325.3,250.4 L325.8,250.8 L326.3,251.2 L326.8,251.7 L327.3,252.3 L327.8,252.9 L328.3,253.5 L328.8,254.1 L329.3,254.7 L329.8,255.4 L330.3,256.1 L330.8,256.8 L331.3,257.6 L331.8,258.5 L332.3,259.4 L332.8,260.3 L333.3,261.2 L333.8,262.1 L334.3,263.0 L334.8,263.9 L335.3,264.9 L335.8,265.9 L336.3,267.0 L336.8,268.0 L337.3,269.1 L337.8,270.1 L338.3,271.1 L338.8,272.1 L339.3,273.1 L339.8,274.1 L340.3,275.0 L340.8,276.0 L341.3,277.0 L341.8,277.9 L342.3,278.8 L342.8,279.7 L343.3,280.5 L343.8,281.3 L344.3,282.0 L344.8,282.7 L345.3,283.4 L345.8,284.1 L346.3,284.7 L346.8,285.3 L347.3,285.9 L347.8,286.4 L348.3,286.8 L348.8,287.2 L349.3,287.5 L349.8,287.9 L350.3,288.2 L350.8,288.6 L351.3,288.9 L351.8,289.1 L352.3,289.4 L352.8,289.6 L353.3,289.7 L353.8,289.9 L354.3,289.9 L354.8,289.9 L355.3,289.9 L355.8,289.9 L356.3,289.9 L356.8,289.9 L357.3,289.8 L357.8,289.8 L358.3,289.8 L358.8,289.8 L359.3,289.7 L359.8,289.7 L360.3,289.6 L360.8,289.6 L361.3,289.6 L361.8,289.5 L362.3,289.3 L362.8,289.2 L363.3,289.0 L363.8,288.8 L364.3,288.6 L364.8,288.3 L365.3,288.1 L365.8,287.9 L366.3,287.6 L366.8,287.4 L367.3,287.2 L367.8,287.0 L368.3,286.8 L368.8,286.5 L369.3,286.3 L369.8,286.1 L370.3,285.8 L370.8,285.6 L371.3,285.4 L371.8,285.2 L372.3,285.0 L372.8,284.8 L373.3,284.6 L373.8,284.5 L374.3,284.4 L374.8,284.3 L375.3,284.2 L375.8,284.1 L376.3,284.0 L376.8,283.9 L377.3,283.8 L377.8,283.7 L378.3,283.6 L378.8,283.6 L379.3,283.5 L379.8,283.5 L380.3,283.5 L380.8,283.5 L381.3,283.6 L381.8,283.6 L382.3,283.7 L382.8,283.8 L383.3,283.9 L383.8,284.0 L384.3,284.1 L384.8,284.2 L385.3,284.4 L385.8,284.5 L386.3,284.7 L386.8,284.8 L387.3,285.0 L387.8,285.3 L388.3,285.5 L388.8,285.9 L389.3,286.2 L389.8,286.6 L390.3,287.0 L390.8,287.4 L391.3,287.9 L391.8,288.3 L392.3,288.8 L392.8,289.3 L393.3,289.9 L393.8,290.5 L394.3,291.2 L394.8,291.9 L395.3,292.6 L395.8,293.4 L396.3,294.2 L396.8,295.0 L397.3,295.9 L397.8,296.7 L398.3,297.6 L398.8,298.5 L399.3,299.5 L399.8,300.5 L400.3,301.5 L400.8,302.6 L401.3,303.7 L401.8,304.8 L402.3,306.0 L402.8,307.3 L403.3,308.7 L403.8,310.2 L404.3,311.8 L404.8,313.5 L405.3,315.2 L405.8,316.9 L406.3,318.5 L406.8,320.0 L407.3,321.4 L407.8,322.7 L408.3,324.0 L408.8,325.2 L409.3,326.4 L409.8,327.6 L410.3,328.8 L410.8,330.0 L411.3,331.3 L411.8,332.6 L412.3,334.0 L412.8,335.3 L413.3,336.7 L413.8,338.1 L414.3,339.5 L414.8,340.9 L415.3,342.4 L415.8,343.9 L416.3,345.6 L416.8,347.3 L417.3,349.2 L417.8,351.2 L418.3,353.4 L418.8,355.8 L419.3,358.3 L419.8,360.8 L420.3,363.4 L420.8,365.9 L421.3,368.4 L421.8,371.0 L422.3,373.5 L422.8,376.1 L423.3,378.8 L423.8,381.5 L424.3,384.2 L424.8,387.0 L425.3,389.9 L425.8,392.8 L426.3,395.8 L426.8,398.9 L427.3,401.9 L427.8,404.9 L428.3,407.9 L428.8,410.8 L429.3,413.7 L429.8,416.6 L430.3,419.5 L430.8,422.3 L431.3,425.0 L431.8,427.6 L432.3,430.0 L432.8,432.2 L433.3,434.3 L433.8,436.3 L434.3,438.2 L434.8,440.1 L435.3,441.8 L435.8,443.3 L436.3,444.7 L436.8,446.0 L437.3,447.3 L437.8,448.4 L438.3,449.6 L438.8,450.6 L439.3,451.7 L439.8,452.6 L440.3,453.4 L440.8,454.2 L441.3,454.9 L441.8,455.5 L442.3,456.1 L442.8,456.7 L443.3,457.2 L443.8,457.6 L444.3,458.1 L444.8,458.5 L445.3,458.9 L445.8,459.2 L446.3,459.5 L446.8,459.7 L447.3,460.0 L447.8,460.2 L448.3,460.4 L448.8,460.6 L449.3,460.8 L449.8,460.9 L450.3,461.0 L450.8,461.0 L451.3,460.9 L451.8,460.9 L452.3,460.7 L452.8,460.6 L453.3,460.4 L453.8,460.1 L454.3,459.9 L454.8,459.7 L455.3,459.4 L455.8,459.1 L456.3,458.9 L456.8,458.5 L457.3,458.1 L457.8,457.7 L458.3,457.2 L458.8,456.7 L459.3,456.1 L459.8,455.6 L460.3,455.0 L460.8,454.4 L461.3,453.8 L461.8,453.3 L462.3,452.7 L462.8,452.1 L463.3,451.5 L463.8,450.9 L464.3,450.3 L464.8,449.6 L465.3,448.9 L465.8,448.3 L466.3,447.6 L466.8,446.9 L467.3,446.2 L467.8,445.5 L468.3,444.8 L468.8,444.1 L469.3,443.3 L469.8,442.6 L470.3,441.9 L470.8,441.2 L471.3,440.5 L471.8,439.7 L472.3,439.0 L472.8,438.2 L473.3,437.4 L473.8,436.7 L474.3,435.9 L474.8,435.1 L475.3,434.3 L475.8,433.6 L476.3,432.8 L476.8,432.0 L477.3,431.3 L477.8,430.5 L478.3,429.8 L478.8,429.0 L479.3,428.3 L479.8,427.6 L480.3,426.9 L480.8,426.2 L481.3,425.5 L481.8,424.8 L482.3,424.1 L482.8,423.4 L483.3,422.7 L483.8,422.0 L484.3,421.3 L484.8,420.6 L485.3,419.9 L485.8,419.2 L486.3,418.5 L486.8,417.9 L487.3,417.2 L487.8,416.5 L488.3,415.9 L488.8,415.3 L489.3,414.6 L489.8,414.0 L490.3,413.4 L490.8,412.8 L491.3,412.2 L491.8,411.6 L492.3,411.1 L492.8,410.5 L493.3,410.0 L493.8,409.5 L494.3,408.9 L494.8,408.4 L495.3,407.9 L495.8,407.4 L496.3,406.9 L496.8,406.4 L497.3,405.9 L497.8,405.5 L498.3,405.0 L498.8,404.5 L499.3,404.1 L499.8,403.6 L500.3,403.2 L500.8,402.7 L501.3,402.3 L501.8,401.9 L502.3,401.5 L502.8,401.1 L503.3,400.6 L503.8,400.3 L504.3,399.9 L504.8,399.5 L505.3,399.1 L505.8,398.7 L506.3,398.4 L506.8,398.0 L507.3,397.7 L507.8,397.3 L508.3,397.0 L508.8,396.7 L509.3,396.3 L509.8,396.0 L510.3,395.7 L510.8,395.4 L511.3,395.1 L511.8,394.8 L512.3,394.5 L512.8,394.2 L513.3,393.9 L513.8,393.6 L514.3,393.3 L514.8,393.0 L515.3,392.8 L515.8,392.5 L516.3,392.2 L516.8,392.0 L517.3,391.7 L517.8,391.4 L518.3,391.2 L518.8,390.9 L519.3,390.7 L519.8,390.4 L520.3,390.2 L520.8,389.9 L521.3,389.6 L521.8,389.4 L522.3,389.1 L522.8,388.9 L523.3,388.7 L523.8,388.5 L524.3,388.4 L524.8,388.3 L525.3,388.2 L525.8,388.1 L526.3,388.1 L526.8,388.0 L527.3,388.0 L527.8,387.9 L528.3,387.9 L528.8,387.9 L529.3,387.8 L529.8,387.8 L530.3,387.8 L530.8,387.8 L531.3,387.9 L531.8,387.9 L532.3,388.1 L532.8,388.2 L533.3,388.4 L533.8,388.6 L534.3,388.8 L534.8,389.0 L535.3,389.1 L535.8,389.3 L536.3,389.5 L536.8,389.8 L537.3,390.0 L537.8,390.3 L538.3,390.6 L538.8,390.9 L539.3,391.2 L539.8,391.5 L540.3,391.8 L540.8,392.1 L541.3,392.4 L541.8,392.7 L542.3,393.0 L542.8,393.3 L543.3,393.6 L543.8,393.8 L544.3,394.1 L544.8,394.3 L545.3,394.6 L545.8,394.9 L546.3,395.1 L546.8,395.4 L547.3,395.6 L547.8,395.9 L548.3,396.1 L548.8,396.3 L549.3,396.6 L549.8,396.8 L550.3,397.1 L550.8,397.3 L551.3,397.6 L551.8,397.8 L552.3,398.0 L552.8,398.3 L553.3,398.5 L553.8,398.7 L554.3,399.0 L554.8,399.2 L555.3,399.5 L555.8,399.7 L556.3,399.9 L556.8,400.1 L557.3,400.4 L557.8,400.6 L558.3,400.8 L558.8,401.1 L559.3,401.3 L559.8,401.5 L560.3,401.7 L560.8,401.9 L561.3,402.1 L561.8,402.4 L562.3,402.6 L562.8,402.8 L563.3,403.0 L563.8,403.3 L564.3,403.5 L564.8,403.8 L565.3,404.0 L565.8,404.2 L566.3,404.5 L566.8,404.7 L567.3,404.9 L567.8,405.1 L568.3,405.2 L568.8,405.4 L569.3,405.5 L569.8,405.6 L570.3,405.6 L570.8,405.6 L571.3,405.7 L571.8,405.7 L572.3,405.7 L572.8,405.7 L573.3,405.8 L573.8,405.8 L574.3,405.8 L574.8,405.8 L575.3,405.8 L575.8,405.8 L576.3,405.9 L576.8,405.9 L577.3,405.9 L577.8,405.9 L578.3,406.0 L578.8,406.0 L579.3,406.2 L579.8,406.4 L580.3,406.8 L580.8,407.2 L581.3,407.6 L581.8,408.1 L582.3,408.6 L582.8,409.1 L583.3,409.6 L583.8,410.0 L584.3,410.4 L584.8,410.7 L585.3,411.0 L585.8,411.2 L586.3,411.5 L586.8,411.6 L587.3,411.8 L587.8,412.0 L588.3,412.2 L588.8,412.3 L589.3,412.5 L589.8,412.7 L590.3,412.9 L590.8,413.1 L591.3,413.4 L591.8,413.6 L592.3,414.0 L592.8,414.4 L593.3,414.9 L593.8,415.5 L594.3,416.2 L594.8,417.0 L595.3,417.8 L595.8,418.6 L596.3,419.4 L596.8,420.3 L597.3,421.1 L597.8,422.0 L598.3,422.8 L598.8,423.6 L599.3,424.5 L599.8,425.4 L600.3,426.3 L600.8,427.3 L601.3,428.4 L601.8,429.5 L602.3,430.7 L602.8,432.0 L603.3,433.5 L603.8,435.2 L604.3,437.2 L604.8,439.2 L605.3,441.3 L605.8,443.4 L606.3,445.5 L606.8,447.4 L607.3,449.2 L607.8,451.1 L608.3,452.9 L608.8,454.7 L609.3,456.5 L609.8,458.2 L610.3,459.9 L610.8,461.5 L611.3,463.0 L611.8,464.5 L612.3,466.0 L612.8,467.5 L613.3,468.9 L613.8,470.2 L614.3,471.5 L614.8,472.7 L615.3,473.8 L615.8,474.9 L616.3,476.0 L616.8,477.0 L617.3,478.1 L617.8,479.0 L618.3,480.0 L618.8,480.8 L619.3,481.6 L619.8,482.3 L620.3,482.9 L620.8,483.4 L621.3,483.9 L621.8,484.4 L622.3,484.9 L622.8,485.3 L623.3,485.7 L623.8,486.1 L624.3,486.4 L624.8,486.7 L625.3,487.0 L625.8,487.2 L626.3,487.5 L626.8,487.6 L627.3,487.8 L627.8,487.9 L628.3,488.1 L628.8,488.2 L629.3,488.4 L629.8,488.5 L630.3,488.6 L630.8,488.7 L631.3,488.8 L631.8,488.8 L632.3,488.9 L632.8,488.9 L633.3,488.9 L633.8,488.9 L634.3,488.8 L634.8,488.7 L635.3,488.6 L635.8,488.4 L636.3,488.3 L636.8,488.1 L637.3,487.9 L637.8,487.7 L638.3,487.5 L638.8,487.3 L639.3,487.0 L639.8,486.8 L640.3,486.6 L640.8,486.4 L641.3,486.1 L641.8,485.9 L642.3,485.7 L642.8,485.4 L643.3,485.2 L643.8,484.9 L644.3,484.6 L644.8,484.3 L645.3,484.0 L645.8,483.7 L646.3,483.4 L646.8,483.1 L647.3,482.8 L647.8,482.5 L648.3,482.2 L648.8,481.9 L649.3,481.6 L649.8,481.3 L650.3,481.1 L650.8,480.8 L651.3,480.6 L651.8,480.4 L652.3,480.1 L652.8,479.9 L653.3,479.7 L653.8,479.4 L654.3,479.2 L654.8,478.9 L655.3,478.7 L655.8,478.4 L656.3,478.2 L656.8,477.9 L657.3,477.6 L657.8,477.2 L658.3,476.9 L658.8,476.5 L659.3,476.1 L659.8,475.8 L660.3,475.4 L660.8,475.0 L661.3,474.7 L661.8,474.4 L662.3,474.2 L662.8,473.9 L663.3,473.8 L663.8,473.6 L664.3,473.5 L664.8,473.4 L665.3,473.3 L665.8,473.2 L666.3,473.2 L666.8,473.1 L667.3,473.0 L667.8,472.9 L668.3,472.8 L668.8,472.7 L669.3,472.6 L669.8,472.5 L670.3,472.3 L670.8,472.1 L671.3,471.9 L671.8,471.6 L672.3,471.3 L672.8,471.0 L673.3,470.7 L673.8,470.4 L674.3,470.0 L674.8,469.7 L675.3,469.4 L675.8,469.1 L676.3,468.8 L676.8,468.5 L677.3,468.3 L677.8,468.1 L678.3,468.0 L678.8,467.9 L679.3,467.8 L679.8,467.8 L680.3,467.7 L680.8,467.7 L681.3,467.7 L681.8,467.6 L682.3,467.6 L682.8,467.5 L683.3,467.5 L683.8,467.3 L684.3,467.0 L684.8,466.7 L685.3,466.3 L685.8,465.9 L686.3,465.4 L686.8,464.9 L687.3,464.4 L687.8,463.9 L688.3,463.5 L688.8,463.0 L689.3,462.7 L689.8,462.4 L690.3,462.1 L690.8,462.0 L691.3,461.9 L691.8,461.9 L692.3,461.8 L692.8,461.8 L693.3,461.8 L693.8,461.7 L694.3,461.7 L694.8,461.7 L695.3,461.6 L695.8,461.6 L696.3,461.5 L696.8,461.4 L697.3,461.3 L697.8,461.2 L698.3,461.0 L698.8,460.9 L699.3,460.7 L699.8,460.5 L700.3,460.3 L700.8,460.2 L701.3,460.0 L701.8,459.8 L702.3,459.6 L702.8,459.4 L703.3,459.2 L703.8,458.9 L704.3,458.7 L704.8,458.5 L705.3,458.2 L705.8,458.0 L706.3,457.7 L706.8,457.5 L707.3,457.3 L707.8,457.1 L708.3,457.0 L708.8,456.9 L709.3,456.8 L709.8,456.8 L710.3,456.8 L710.8,456.7 L711.3,456.7 L711.8,456.7 L712.3,456.7 L712.8,456.7 L713.3,456.7 L713.8,456.7 L714.3,456.6 L714.8,456.6 L715.3,456.6 L715.8,456.6 L716.3,456.6 L716.8,456.6 L717.3,456.6 L717.8,456.5 L718.3,456.5 L718.8,456.5 L719.3,456.3 L719.8,456.2 L720.3,456.0 L720.8,455.8 L721.3,455.6 L721.8,455.4 L722.3,455.2 L722.8,455.1 L723.3,455.0 L723.8,455.0 L724.3,454.9 L724.8,454.9 L725.3,454.8 L725.8,454.8 L726.3,454.7 L726.8,454.7 L727.3,454.6 L727.8,454.3 L728.3,454.0 L728.8,453.6 L729.3,453.1 L729.8,452.8 L730.3,452.6 L730.8,452.6 L731.3,452.6 L731.8,452.6 L732.3,452.6 L732.8,452.6 L733.3,452.6 L733.8,452.8 L734.3,453.1 L734.8,453.5 L735.3,454.1 L735.8,454.6 L736.3,455.2 L736.8,455.7 L737.3,456.2 L737.8,456.6 L738.3,457.0 L738.8,457.4 L739.3,457.9 L739.8,458.3 L740.3,458.7 L740.8,459.0 L741.3,459.4 L741.8,459.7 L742.3,460.0 L742.8,460.4 L743.3,460.7 L743.8,461.1 L744.3,461.3 L744.8,461.6 L745.3,461.7 L745.8,461.8 L746.3,461.8 L746.8,461.8 L747.3,461.8 L747.8,461.8 L748.3,461.8 L748.8,461.8 L749.3,461.8 L749.8,461.8 L750.3,461.8 L750.8,461.9 L751.3,462.2 L751.8,462.8 L752.3,463.5 L752.8,464.3 L753.3,465.0 L753.8,465.6 L754.3,465.9 L754.8,466.1 L755.3,466.2 L755.8,466.3 L756.3,466.4 L756.8,466.5 L757.3,466.6 L757.8,466.7 L758.3,466.9 L758.8,467.0 L759.3,467.3 L759.8,467.7 L760.3,468.2 L760.8,468.8 L761.3,469.3 L761.8,469.8 L762.3,470.3 L762.8,470.7 L763.3,471.0 L763.8,471.1 L764.3,471.2 L764.8,471.2 L765.3,471.3 L765.8,471.3 L766.3,471.4 L766.8,471.4 L767.3,471.4 L767.8,471.4 L768.3,471.3 L768.8,471.2 L769.3,471.1 L769.8,471.0 L770.3,470.9 L770.8,470.9 L771.3,471.0 L771.8,471.4 L772.3,472.0 L772.8,472.7 L773.3,473.4 L773.8,474.1 L774.3,474.7 L774.8,475.1 L775.3,475.3 L775.8,475.3 L776.3,475.3 L776.8,475.3 L777.3,475.2 L777.8,475.2 L778.3,475.2 L778.8,475.2 L779.3,475.1 L779.8,475.1 L780.3,475.1 L780.8,475.1 L781.3,475.2 L781.8,475.6 L782.3,476.1 L782.8,476.5 L783.3,477.0 L783.8,477.2 L784.3,477.3 L784.8,477.3 L785.3,477.3 L785.8,477.2 L786.3,477.2 L786.8,477.1 L787.3,477.1 L787.8,477.0 L788.3,477.0 L788.8,476.9 L789.3,476.9 L789.8,476.9 L790.3,477.0 L790.8,477.2 L791.3,477.4 L791.8,477.7 L792.3,478.0 L792.8,478.3 L793.3,478.5 L793.8,478.8 L794.3,479.0 L794.8,479.1 L795.3,479.1 L795.8,479.1 L796.3,479.1 L796.8,479.1 L797.3,479.1 L797.8,479.1 L798.3,479.1 L798.8,479.1 L799.3,479.1 L799.8,479.1 L800.3,479.1 L800.8,479.1 L801.3,479.1 L801.8,479.2 L802.3,479.3 L802.8,479.4 L803.3,479.7 L803.8,479.9 L804.3,480.2 L804.8,480.5 L805.3,480.8 L805.8,481.1 L806.3,481.4 L806.8,481.7 L807.3,482.0 L807.8,482.4 L808.3,482.8 L808.8,483.2 L809.3,483.6 L809.8,484.0 L810.3,484.3 L810.8,484.7 L811.3,485.0 L811.8,485.2 L812.3,485.5 L812.8,485.8 L813.3,486.0 L813.8,486.3 L814.3,486.5 L814.8,486.7 L815.3,486.8 L815.8,486.9 L816.3,486.9 L816.8,486.9 L817.3,486.9 L817.8,486.9 L818.3,486.9 L818.8,486.9 L819.3,486.9 L819.8,486.9 L820.3,486.9 L820.8,486.9 L821.3,486.9 L821.8,486.9 L822.3,486.9 L822.8,486.9 L823.3,486.9 L823.8,486.9 L824.3,486.9 L824.8,486.9 L825.3,486.9 L825.8,486.9 L826.3,486.9 L826.8,486.7 L827.3,486.4 L827.8,486.1 L828.3,485.7 L828.8,485.4 L829.3,485.0 L829.8,484.8 L830.3,484.7 L830.8,484.8 L831.3,484.9 L831.8,485.3 L832.3,485.7 L832.8,486.3 L833.3,487.0 L833.8,487.7 L834.3,488.5" stroke="#ff00ff" stroke-width="2"/>
</g>
<!-- axes -->
<g fill="#000" shape-rendering="crispEdges">
<rect x="64" y="101" width="2" height="441"/>
<rect x="64" y="540" width="771" height="2"/>
<rect x="60" y="540" width="5" height="2"/>
<rect x="61" y="529" width="4" height="2"/>
<rect x="61" y="518" width="4" height="2"/>
<rect x="61" y="507" width="4" height="2"/>
<rect x="61" y="496" width="4" height="2"/>
<rect x="60" y="485" width="5" height="2"/>
<rect x="61" y="474" width="4" height="2"/>
<rect x="61" y="463" width="4" height="2"/>
<rect x="61" y="452" width="4" height="2"/>
<rect x="61" y="441" width="4" height="2"/>
<rect x="60" y="430" width="5" height="2"/>
<rect x="61" y="419" width="4" height="2"/>
<rect x="61" y="408" width="4" height="2"/>
<rect x="61" y="397" width="4" height="2"/>
<rect x="61" y="386" width="4" height="2"/>
<rect x="60" y="375" width="5" height="2"/>
<rect x="61" y="364" width="4" height="2"/>
<rect x="61" y="353" width="4" height="2"/>
<rect x="61" y="342" width="4" height="2"/>
<rect x="61" y="331" width="4" height="2"/>
<rect x="60" y="321" width="5" height="2"/>
<rect x="61" y="310" width="4" height="2"/>
<rect x="61" y="299" width="4" height="2"/>
<rect x="61" y="288" width="4" height="2"/>
<rect x="61" y="277" width="4" height="2"/>
<rect x="60" y="266" width="5" height="2"/>
<rect x="61" y="255" width="4" height="2"/>
<rect x="61" y="244" width="4" height="2"/>
<rect x="61" y="233" width="4" height="2"/>
<rect x="61" y="222" width="4" height="2"/>
<rect x="60" y="211" width="5" height="2"/>
<rect x="61" y="200" width="4" height="2"/>
<rect x="61" y="189" width="4" height="2"/>
<rect x="61" y="178" width="4" height="2"/>
<rect x="61" y="167" width="4" height="2"/>
<rect x="60" y="156" width="5" height="2"/>
<rect x="61" y="145" width="4" height="2"/>
<rect x="61" y="134" width="4" height="2"/>
<rect x="61" y="123" width="4" height="2"/>
<rect x="61" y="112" width="4" height="2"/>
<rect x="60" y="101" width="5" height="2"/>
<rect x="64" y="541" width="2" height="5"/>
<rect x="137" y="541" width="2" height="5"/>
<rect x="210" y="541" width="2" height="5"/>
<rect x="284" y="541" width="2" height="5"/>
<rect x="357" y="541" width="2" height="5"/>
<rect x="430" y="541" width="2" height="5"/>
<rect x="503" y="541" width="2" height="5"/>
<rect x="577" y="541" width="2" height="5"/>
<rect x="650" y="541" width="2" height="5"/>
<rect x="723" y="541" width="2" height="5"/>
<rect x="796" y="541" width="2" height="5"/>
</g>
<g class="b" font-size="13">
<text x="52.3" y="545.1" text-anchor="end">0</text>
<text x="52.3" y="490.2" text-anchor="end">10</text>
<text x="52.3" y="435.4" text-anchor="end">20</text>
<text x="52.3" y="380.5" text-anchor="end">30</text>
<text x="52.3" y="325.6" text-anchor="end">40</text>
<text x="52.3" y="270.7" text-anchor="end">50</text>
<text x="52.3" y="215.8" text-anchor="end">60</text>
<text x="52.3" y="161.0" text-anchor="end">70</text>
<text x="52.3" y="106.1" text-anchor="end">80</text>
<text x="65.3" y="565.5" text-anchor="middle">400</text>
<text x="138.5" y="565.5" text-anchor="middle">600</text>
<text x="211.8" y="565.5" text-anchor="middle">800</text>
<text x="285.0" y="565.5" text-anchor="middle" textLength="27.4" lengthAdjust="spacingAndGlyphs">1000</text>
<text x="358.3" y="565.5" text-anchor="middle" textLength="27.4" lengthAdjust="spacingAndGlyphs">1200</text>
<text x="431.5" y="565.5" text-anchor="middle" textLength="27.4" lengthAdjust="spacingAndGlyphs">1400</text>
<text x="504.7" y="565.5" text-anchor="middle" textLength="27.4" lengthAdjust="spacingAndGlyphs">1600</text>
<text x="578.0" y="565.5" text-anchor="middle" textLength="27.4" lengthAdjust="spacingAndGlyphs">1800</text>
<text x="651.2" y="565.5" text-anchor="middle" textLength="27.4" lengthAdjust="spacingAndGlyphs">2000</text>
<text x="724.4" y="565.5" text-anchor="middle" textLength="27.4" lengthAdjust="spacingAndGlyphs">2200</text>
<text x="797.7" y="565.5" text-anchor="middle" textLength="27.4" lengthAdjust="spacingAndGlyphs">2400</text>
<text x="452.2" y="586.8" text-anchor="middle" textLength="106.8" lengthAdjust="spacingAndGlyphs">Wavelength (nm)</text>
<text transform="translate(31.7,323.8) rotate(-90)" font-size="14.5" text-anchor="middle" textLength="85.5" lengthAdjust="spacingAndGlyphs">% Reflectance</text>
</g>
<text class="b" font-size="10" x="451.5" y="608.6" text-anchor="middle" textLength="178" lengthAdjust="spacingAndGlyphs" style="stroke-width:0.6px">© 2009 University of New Hampshire</text>
<!-- legend -->
<rect x="702" y="126" width="105" height="68" fill="#fff" stroke="#000" stroke-width="2" shape-rendering="crispEdges"/>
<rect x="730" y="142" width="27" height="2" fill="#000080"/>
<rect x="730" y="176" width="27" height="2" fill="#ff00ff"/>
<g font-size="12">
<text x="759.2" y="148" textLength="22.8" lengthAdjust="spacingAndGlyphs">12N</text>
<text x="759.2" y="181.6">12S</text>
</g>
</svg>
</body></html>
